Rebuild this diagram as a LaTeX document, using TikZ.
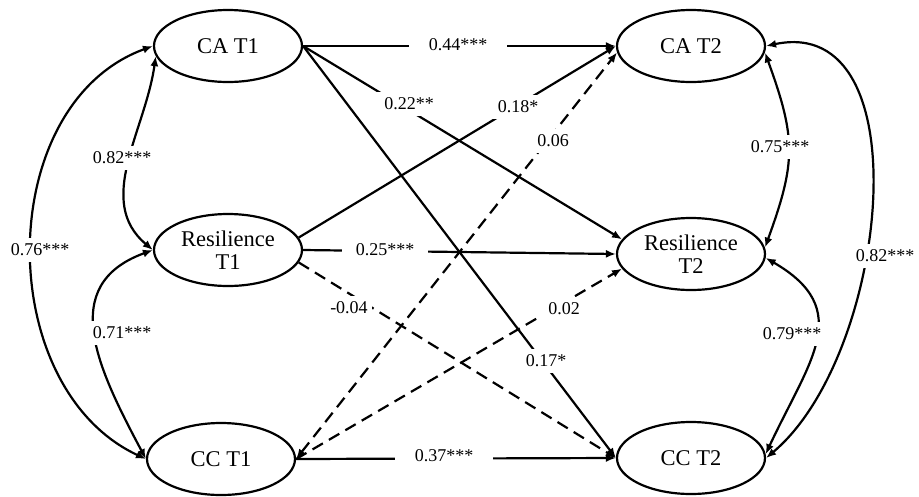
\documentclass[tikz,border=0pt]{standalone}
\usepackage{fontspec}
\setmainfont{Liberation Serif}
\usetikzlibrary{shapes.geometric,arrows.meta}
\begin{document}
\begin{tikzpicture}[x=1pt,y=1pt,
  var/.style={draw, ellipse, line width=2.2pt, minimum width=148pt, minimum height=72pt, inner sep=0pt, align=center, font=\fontsize{22.5}{23}\selectfont},
  lbl/.style={fill=white, inner xsep=10pt, inner ysep=6pt, font=\fontsize{18}{20}\selectfont},
  wide/.style={inner xsep=20pt},
  conn/.style={line width=2.2pt, -{Latex[length=10pt,width=8pt]}},
  cov/.style={line width=2.2pt, {Latex[length=10pt,width=8pt]}-{Latex[length=10pt,width=8pt]}},
  dsh/.style={dash pattern=on 12pt off 7pt}
]
\useasboundingbox (0,0) rectangle (919,-496);

% variables
\node[var] (CA1) at (228,-46) {CA T1};
\node[var] (R1)  at (228,-250) {Resilience\\T1};
\node[var] (CC1) at (221,-459) {CC T1};
\node[var] (CA2) at (691,-46) {CA T2};
\node[var] (R2)  at (691,-254) {Resilience\\T2};
\node[var] (CC2) at (691,-458) {CC T2};

% regression paths
\draw[conn] (CA1.east) -- (CA2.west);
\draw[conn] (CA1.east) -- (R2.168);
\draw[conn] (CA1.east) -- (CC2.west);
\draw[conn] (R1.10) -- (CA2.west);
\draw[conn] (R1.east) -- (R2.west);
\draw[conn,dsh] (R1.-10) -- (CC2.west);
\draw[conn] (CC1.east) -- (CC2.west);
\draw[cov,dsh] (CC1.east) -- (CA2.185);
\draw[conn,dsh] (CC1.east) -- (R2.-168);

% covariances, left
\draw[cov] (CA1.188) to[out=262, in=140, looseness=1] (R1.west);
\draw[cov] (CA1.west) to[out=200, in=155, looseness=1.05] (CC1.west);
\draw[cov] (R1.west) to[out=200, in=118, looseness=1.25] (CC1.west);

% covariances, right
\draw[cov] (CA2.-5) to[out=-70, in=70, looseness=1.2] (R2.5);
\draw[cov] (R2.-3) to[out=-30, in=65, looseness=1.35] (CC2.3);
\draw[cov] (CA2.east) to[out=12, in=40, looseness=1] (CC2.east);

% labels
\node[lbl,wide] (l1)  at (458,-45)  {0.44***};
\node[lbl] (l2)  at (409,-104) {0.22**};
\node[lbl] (l3)  at (546,-361) {0.17*};
\node[lbl] (l4)  at (518,-107) {0.18*};
\node[lbl] (l5)  at (553,-141) {0.06};
\node[lbl,inner xsep=14pt] (l6)  at (385,-250) {0.25***};
\node[lbl,inner xsep=4pt] (l7)  at (349,-308) {-0.04};
\node[lbl] (l8)  at (564,-309) {0.02};
\node[lbl,wide] (l9)  at (444,-456) {0.37***};
\node[lbl,inner xsep=3pt] (l10) at (122,-158) {0.82***};
\node[lbl,inner xsep=3pt] (l11) at (40,-250)  {0.76***};
\node[lbl,inner xsep=3pt] (l12) at (122,-333) {0.71***};
\node[lbl,inner xsep=3pt] (l13) at (780,-147) {0.75***};
\node[lbl,inner xsep=3pt] (l14) at (792,-334) {0.79***};
\node[lbl,inner xsep=3pt] (l15) at (885,-256) {0.82***};
\end{tikzpicture}
\end{document}
